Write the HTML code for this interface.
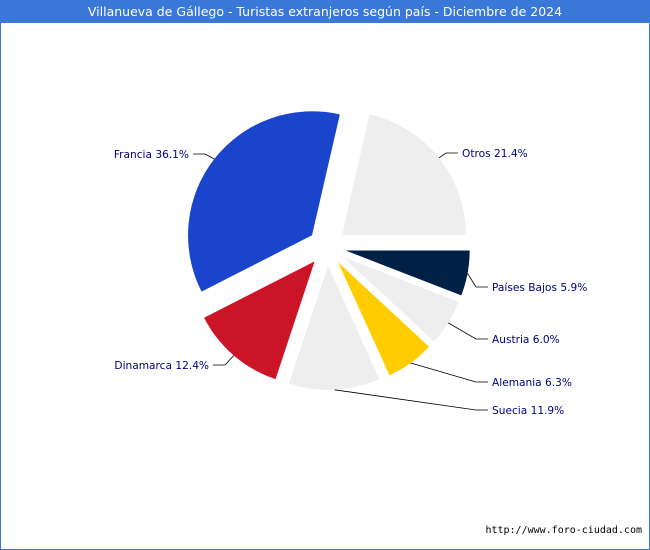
<!DOCTYPE html>
<html><head><meta charset="utf-8"><style>
body{margin:0;background:#fff}
#wrap{position:relative;width:648px;height:548px;border:1px solid #3a78d8;background:#fff;overflow:hidden}
#title{position:absolute;left:0;top:0;width:648px;height:22px;background:#3a78d8;color:#fff;font:12.5px "DejaVu Sans",sans-serif;text-align:center;line-height:22px}
svg{position:absolute;left:0;top:0}
</style></head><body>
<div id="wrap">
<div id="title">Villanueva de Gállego - Turistas extranjeros según país - Diciembre de 2024</div>
<svg id="chart" width="650" height="550"></svg>
</div>
<script>
const categories=["Otros","Francia","Dinamarca","Suecia","Alemania","Austria","Países Bajos"];
const values=[21.4,36.1,12.4,11.9,6.3,6.0,5.9];
const colors=["#eeeeee","#1a44cc","#cc1428","#eeeeee","#ffcc00","#eeeeee","#002046"];
const labelPos=[[461,156,"start"],[188,157,"end"],[208,368,"end"],[491,413,"start"],[491,385,"start"],[491,342,"start"],[491,290,"start"]];
const svg=document.getElementById('chart');
const NS="http://www.w3.org/2000/svg";
const cx=326,cy=246,r=124,off=19;
const total=values.reduce((a,b)=>a+b,0);
let a0=0;
function pt(a,rad,ox,oy){return [ox+rad*Math.cos(a),oy-rad*Math.sin(a)];}
values.forEach((v,i)=>{
  const a1=a0+v/total*2*Math.PI, am=(a0+a1)/2;
  const ox=cx+off*Math.cos(am), oy=cy-off*Math.sin(am);
  const p0=pt(a0,r,ox,oy), p1=pt(a1,r,ox,oy);
  const large=(a1-a0)>Math.PI?1:0;
  const path=document.createElementNS(NS,'path');
  path.setAttribute('d',`M${ox},${oy}L${p0[0]},${p0[1]}A${r},${r} 0 ${large} 0 ${p1[0]},${p1[1]}Z`);
  path.setAttribute('fill',colors[i]);
  
  
  svg.appendChild(path);
  const lp=labelPos[i];
  const ap=pt(am,r,ox,oy);
  const ex=lp[2]=="start"?lp[0]-4:lp[0]+4;
  const el=lp[2]=="start"?ex-12:ex+12;
  const line=document.createElementNS(NS,'polyline');
  line.setAttribute('points',`${ap[0]},${ap[1]} ${el},${lp[1]-4} ${ex},${lp[1]-4}`);
  line.setAttribute('fill','none');line.setAttribute('stroke','#000');line.setAttribute('stroke-width','0.8');
  
  
  svg.appendChild(line);
  const t=document.createElementNS(NS,'text');
  t.setAttribute('x',lp[0]);t.setAttribute('y',lp[1]);t.setAttribute('text-anchor',lp[2]);
  t.setAttribute('font-family','DejaVu Sans, sans-serif');t.setAttribute('font-size','10.6');t.setAttribute('fill','#000080');
  t.textContent=categories[i]+' '+v.toFixed(1)+'%';
  
  
  svg.appendChild(t);
  a0=a1;
});
const c=document.createElementNS(NS,'text');
c.setAttribute('x',641);c.setAttribute('y',532);c.setAttribute('text-anchor','end');
c.setAttribute('font-family','DejaVu Sans Mono, monospace');c.setAttribute('font-size','10');c.setAttribute('fill','#000');
c.textContent='http://www.foro-ciudad.com';


svg.appendChild(c);
</script>
</body></html>
